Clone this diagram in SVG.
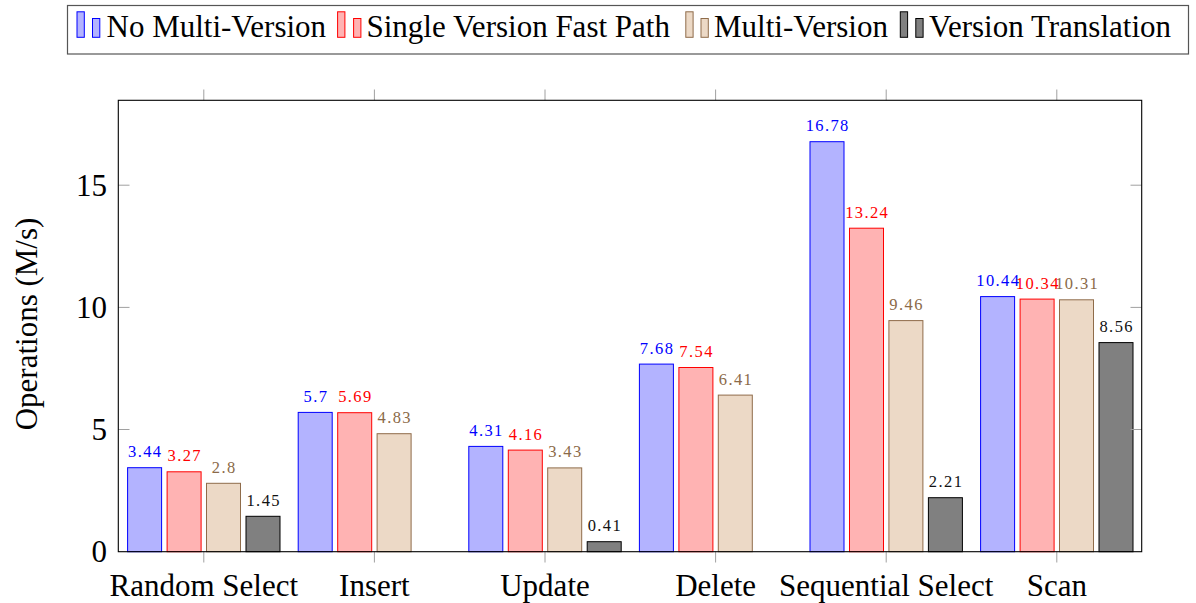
<svg xmlns="http://www.w3.org/2000/svg" width="1196" height="603" viewBox="0 0 1196 603" font-family="'Liberation Serif', 'Times New Roman', serif">
<style>
text{font-family:'Liberation Serif','Times New Roman',serif;fill:#000}
.big{font-size:31px}
.lbl{font-size:16.5px;letter-spacing:1.4px;text-anchor:middle}
.cat{text-anchor:middle}
.tick{stroke:#a0a0a0;stroke-width:1}
.b1{fill:#b3b3ff;stroke:#0000ff;stroke-width:1}
.b2{fill:#ffb3b3;stroke:#ff0000;stroke-width:1}
.b3{fill:#ecd9c6;stroke:#8f6c4a;stroke-width:1}
.b4{fill:#808080;stroke:#000;stroke-width:1}
.t1{fill:#0000ff}
.t2{fill:#ff0000}
.t3{fill:#8b6a48}
.t4{fill:#111}
</style>
<rect width="1196" height="603" fill="#fff"/>

<g id="legend">
<rect x="67.5" y="5.5" width="1121" height="48.5" fill="#fff" stroke="#555" stroke-width="1.2"/>
<rect class="b1" x="77" y="11.8" width="7.3" height="25.5"/>
<rect class="b1" x="92.5" y="18.5" width="7.3" height="18.8"/>
<text class="big" x="106.5" y="37.3">No Multi-Version</text>
<rect class="b2" x="337.6" y="11.8" width="7.3" height="25.5"/>
<rect class="b2" x="353.6" y="18.5" width="7.3" height="18.8"/>
<text class="big" x="366.5" y="37.3">Single Version Fast Path</text>
<rect class="b3" x="685.8" y="11.8" width="7.3" height="25.5"/>
<rect class="b3" x="701" y="18.5" width="7.3" height="18.8"/>
<text class="big" x="714" y="37.3">Multi-Version</text>
<rect class="b4" x="900.3" y="11.8" width="7.3" height="25.5"/>
<rect class="b4" x="915.8" y="18.5" width="7.3" height="18.8"/>
<text class="big" x="929" y="37.3">Version Translation</text>
</g>

<g id="random-select">
<rect class="b1" x="127.6" y="467.7" width="34" height="84"/>
<rect class="b2" x="167.1" y="471.8" width="34" height="79.9"/>
<rect class="b3" x="206.5" y="483.3" width="34" height="68.4"/>
<rect class="b4" x="246" y="516.3" width="34" height="35.4"/>
<text class="lbl t1" x="145.3" y="457.2">3.44</text>
<text class="lbl t2" x="184.8" y="461.3">3.27</text>
<text class="lbl t3" x="224.2" y="472.8">2.8</text>
<text class="lbl t4" x="263.7" y="505.8">1.45</text>
<text class="big cat" x="203.8" y="596">Random Select</text>
</g>

<g id="insert">
<rect class="b1" x="298.2" y="412.4" width="34" height="139.3"/>
<rect class="b2" x="337.7" y="412.7" width="34" height="139"/>
<rect class="b3" x="377.1" y="433.7" width="34" height="118"/>
<text class="lbl t1" x="315.9" y="401.9">5.7</text>
<text class="lbl t2" x="355.4" y="402.2">5.69</text>
<text class="lbl t3" x="394.8" y="423.2">4.83</text>
<text class="big cat" x="374.4" y="596">Insert</text>
</g>

<g id="update">
<rect class="b1" x="468.8" y="446.4" width="34" height="105.3"/>
<rect class="b2" x="508.3" y="450.1" width="34" height="101.6"/>
<rect class="b3" x="547.7" y="467.9" width="34" height="83.8"/>
<rect class="b4" x="587.2" y="541.7" width="34" height="10"/>
<text class="lbl t1" x="486.5" y="435.9">4.31</text>
<text class="lbl t2" x="526" y="439.6">4.16</text>
<text class="lbl t3" x="565.4" y="457.4">3.43</text>
<text class="lbl t4" x="604.9" y="531.2">0.41</text>
<text class="big cat" x="545" y="596">Update</text>
</g>

<g id="delete">
<rect class="b1" x="639.4" y="364.1" width="34" height="187.6"/>
<rect class="b2" x="678.9" y="367.5" width="34" height="184.2"/>
<rect class="b3" x="718.3" y="395.1" width="34" height="156.6"/>
<text class="lbl t1" x="657.1" y="353.6">7.68</text>
<text class="lbl t2" x="696.6" y="357">7.54</text>
<text class="lbl t3" x="736" y="384.6">6.41</text>
<text class="big cat" x="715.6" y="596">Delete</text>
</g>

<g id="sequential-select">
<rect class="b1" x="810" y="141.7" width="34" height="410"/>
<rect class="b2" x="849.5" y="228.2" width="34" height="323.5"/>
<rect class="b3" x="888.9" y="320.6" width="34" height="231.1"/>
<rect class="b4" x="928.4" y="497.7" width="34" height="54"/>
<text class="lbl t1" x="827.7" y="131.2">16.78</text>
<text class="lbl t2" x="867.2" y="217.7">13.24</text>
<text class="lbl t3" x="906.6" y="310.1">9.46</text>
<text class="lbl t4" x="946.1" y="487.2">2.21</text>
<text class="big cat" x="886.2" y="596">Sequential Select</text>
</g>

<g id="scan">
<rect class="b1" x="980.6" y="296.6" width="34" height="255.1"/>
<rect class="b2" x="1020.1" y="299.1" width="34" height="252.6"/>
<rect class="b3" x="1059.5" y="299.8" width="34" height="251.9"/>
<rect class="b4" x="1099" y="342.6" width="34" height="209.1"/>
<text class="lbl t1" x="998.3" y="286.1">10.44</text>
<text class="lbl t2" x="1037.8" y="288.6">10.34</text>
<text class="lbl t3" x="1077.2" y="289.3">10.31</text>
<text class="lbl t4" x="1116.7" y="332.1">8.56</text>
<text class="big cat" x="1056.8" y="596">Scan</text>
</g>

<g id="axis">
<g class="tick">
<line x1="203.8" y1="89.5" x2="203.8" y2="100.3"/>
<line x1="374.4" y1="89.5" x2="374.4" y2="100.3"/>
<line x1="545" y1="89.5" x2="545" y2="100.3"/>
<line x1="715.6" y1="89.5" x2="715.6" y2="100.3"/>
<line x1="886.2" y1="89.5" x2="886.2" y2="100.3"/>
<line x1="1056.8" y1="89.5" x2="1056.8" y2="100.3"/>
<line x1="203.8" y1="551.7" x2="203.8" y2="562.5"/>
<line x1="374.4" y1="551.7" x2="374.4" y2="562.5"/>
<line x1="545" y1="551.7" x2="545" y2="562.5"/>
<line x1="715.6" y1="551.7" x2="715.6" y2="562.5"/>
<line x1="886.2" y1="551.7" x2="886.2" y2="562.5"/>
<line x1="1056.8" y1="551.7" x2="1056.8" y2="562.5"/>
<line x1="118.3" y1="429.5" x2="129.5" y2="429.5"/>
<line x1="118.3" y1="307.4" x2="129.5" y2="307.4"/>
<line x1="118.3" y1="185.2" x2="129.5" y2="185.2"/>
<line x1="1130.5" y1="429.5" x2="1141.7" y2="429.5"/>
<line x1="1130.5" y1="307.4" x2="1141.7" y2="307.4"/>
<line x1="1130.5" y1="185.2" x2="1141.7" y2="185.2"/>
</g>
<rect x="118.3" y="100.3" width="1023.4" height="451.4" fill="none" stroke="#000" stroke-width="1.1"/>
<text class="big" x="107" y="562.2" text-anchor="end">0</text>
<text class="big" x="107" y="440" text-anchor="end">5</text>
<text class="big" x="107" y="317.9" text-anchor="end">10</text>
<text class="big" x="107" y="195.7" text-anchor="end">15</text>
<text class="big" x="0" y="0" text-anchor="middle" transform="translate(36.5 324) rotate(-90)">Operations (M/s)</text>
</g>
</svg>
